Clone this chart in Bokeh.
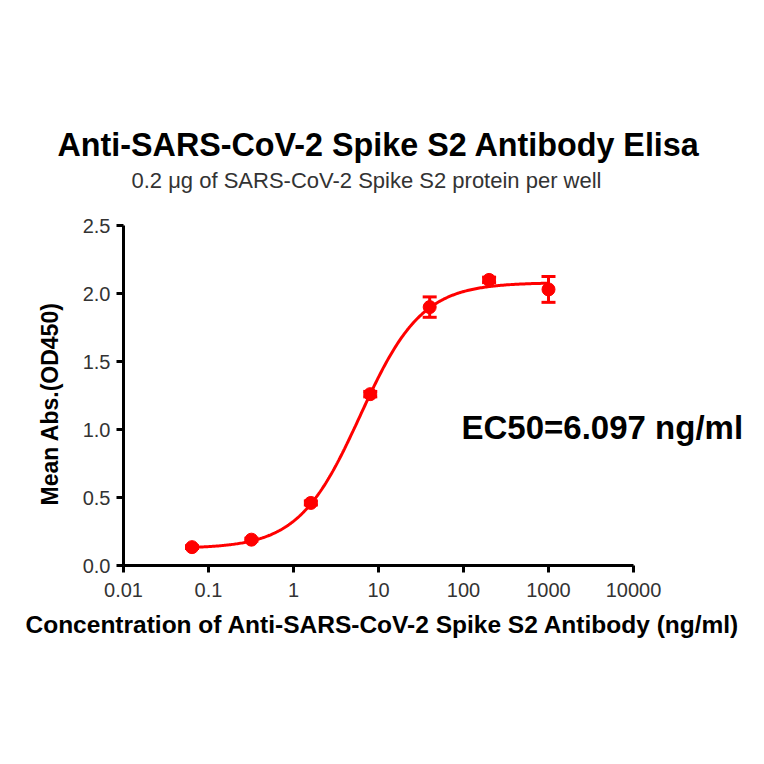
import numpy as np
from bokeh.plotting import figure
from bokeh.models import Range1d, FixedTicker, Label, Title, Whisker, ColumnDataSource, TeeHead
from bokeh.embed import file_html
from bokeh.resources import INLINE

# ---- data ----
conc = [0.064, 0.32, 1.6, 8, 40, 200, 1000]
mean_abs = [0.135, 0.19, 0.46, 1.26, 1.90, 2.10, 2.03]
err = [0.01, 0.01, 0.015, 0.02, 0.075, 0.02, 0.095]

# four-parameter logistic fit shown in the chart
fit_bottom = 0.125
fit_top = 2.08
fit_ec50 = 6.097
fit_hill = 1.2

x_ticks = [0.01, 0.1, 1, 10, 100, 1000, 10000]
x_tick_labels = ["0.01", "0.1", "1", "10", "100", "1000", "10000"]
y_ticks = [0.0, 0.5, 1.0, 1.5, 2.0, 2.5]
y_tick_labels = ["0.0", "0.5", "1.0", "1.5", "2.0", "2.5"]

title_text = "Anti-SARS-CoV-2 Spike S2 Antibody Elisa"
subtitle_text = "0.2 \u03bcg of SARS-CoV-2 Spike S2 protein per well"
x_label = "Concentration of Anti-SARS-CoV-2 Spike S2 Antibody (ng/ml)"
y_label = "Mean Abs.(OD450)"
ec50_text = "EC50=6.097 ng/ml"

RED = "#ff0000"
FONT = "Liberation Sans"

# ---- layout (pixels) ----
W, H = 748, 748
axis_left, axis_right = 123, 633      # x pixel of 0.01 and 10000
axis_top, axis_bottom = 225, 565      # y pixel of 2.5 and 0
frame_right, frame_top = 748, 165
px_per_decade = (axis_right - axis_left) / (np.log10(x_ticks[-1]) - np.log10(x_ticks[0]))
px_per_unit = (axis_bottom - axis_top) / (y_ticks[-1] - y_ticks[0])

def x_at(px):
    return 10 ** (np.log10(x_ticks[0]) + (px - axis_left) / px_per_decade)

def y_at(py):
    return (axis_bottom - py) / px_per_unit

p = figure(width=W, height=H, output_backend="svg", toolbar_location=None,
           x_axis_type="log",
           x_range=Range1d(x_ticks[0], x_at(frame_right)),
           y_range=Range1d(y_ticks[0], y_at(frame_top)),
           min_border_left=axis_left, min_border_right=W - frame_right,
           min_border_top=frame_top, min_border_bottom=H - axis_bottom)

p.outline_line_color = None
p.grid.visible = False
p.background_fill_color = "white"
p.border_fill_color = "white"

# fitted curve
xs = np.logspace(np.log10(conc[0]), np.log10(conc[-1]), 300)
ys = fit_bottom + (fit_top - fit_bottom) / (1 + (fit_ec50 / xs) ** fit_hill)
p.line(xs, ys, line_color=RED, line_width=3)

src = ColumnDataSource(dict(x=conc, y=mean_abs,
                            lo=[m - e for m, e in zip(mean_abs, err)],
                            hi=[m + e for m, e in zip(mean_abs, err)]))
w = Whisker(source=src, base="x", upper="hi", lower="lo", dimension="height",
            line_color=RED, line_width=3,
            upper_head=TeeHead(size=14, line_color=RED, line_width=3),
            lower_head=TeeHead(size=14, line_color=RED, line_width=3))
p.add_layout(w)
p.scatter("x", "y", source=src, size=13, color=RED)

# axes
for ax in (p.xaxis[0], p.yaxis[0]):
    ax.axis_line_width = 3
    ax.axis_line_color = "black"
    ax.major_tick_line_width = 3
    ax.major_tick_line_color = "black"
    ax.major_tick_out = 7
    ax.major_tick_in = 0
    ax.minor_tick_line_color = None
    ax.major_label_text_font = FONT
    ax.major_label_text_font_size = "20px"
    ax.major_label_text_color = "#333333"

p.xaxis.bounds = (x_ticks[0], x_ticks[-1])
p.xaxis.ticker = FixedTicker(ticks=x_ticks)
p.xaxis.major_label_overrides = {t: l for t, l in zip(x_ticks, x_tick_labels)}
p.xaxis.major_label_standoff = 10

p.yaxis.bounds = (y_ticks[0], y_ticks[-1])
p.yaxis.ticker = FixedTicker(ticks=y_ticks)
p.yaxis.major_label_overrides = {t: l for t, l in zip(y_ticks, y_tick_labels)}
p.yaxis.major_label_standoff = 6

# axis titles (side-panel titles so they can sit off-centre of the frame)
p.add_layout(Title(text=x_label, align="left", offset=25 - axis_left, standoff=18,
                   text_font=FONT, text_font_style="bold", text_font_size="24.5px",
                   text_color="black"), "below")
p.add_layout(Title(text=y_label, align="left", offset=axis_bottom - 505, standoff=34,
                   text_font=FONT, text_font_style="bold", text_font_size="23px",
                   text_color="black"), "left")

# chart title
p.add_layout(Title(text=title_text, align="left", offset=57 - axis_left, standoff=5,
                   text_font=FONT, text_font_style="bold", text_font_size="32.3px",
                   text_color="black"), "above")

# texts inside the frame
p.add_layout(Label(x=x_at(366), y=y_at(180), text=subtitle_text, text_font=FONT,
                   text_font_size="22px", text_color="#333333",
                   text_align="center", text_baseline="middle"))
p.add_layout(Label(x=x_at(461), y=y_at(427), text=ec50_text, text_font=FONT,
                   text_font_style="bold", text_font_size="33px", text_color="black",
                   text_align="left", text_baseline="middle"))

open("out.html", "w").write(file_html(p, INLINE))
